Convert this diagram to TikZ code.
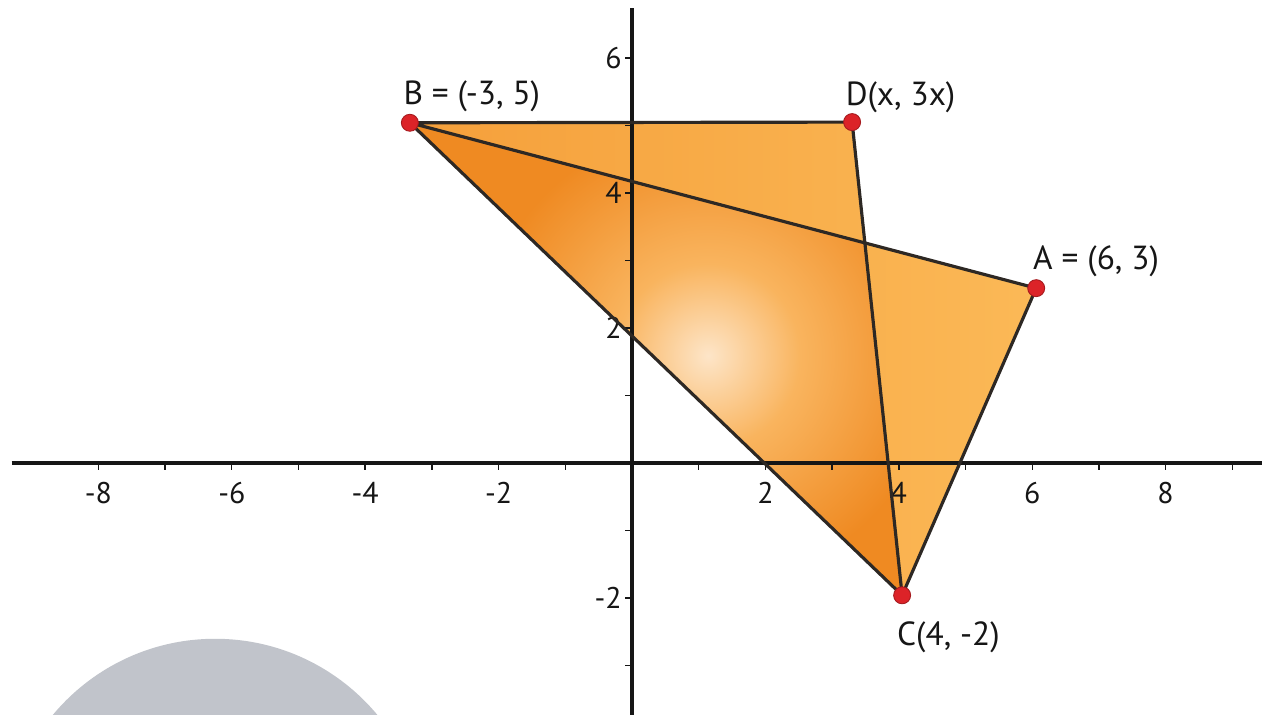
\documentclass[tikz,border=0pt]{standalone}
\usepackage{fontspec}
\setmainfont{PT Sans}
\usetikzlibrary{calc}
\definecolor{ink}{HTML}{161616}
\definecolor{edgeInk}{HTML}{2d2824}
\definecolor{orangeLight}{HTML}{fbb957}
\definecolor{orangeMid}{HTML}{f59f3a}
\definecolor{orangeSoft}{HTML}{f9b45e}
\definecolor{orangeDeep}{HTML}{ef8a22}
\definecolor{creamFill}{HTML}{fde5c8}
\definecolor{dotRed}{HTML}{dc2328}
\definecolor{discGrey}{HTML}{c1c4cb}
\def\Ux{1.334}
\def\Uy{1.35}
\pgfdeclareradialshading{glow}{\pgfpoint{0cm}{0cm}}{%
  color(0bp)=(creamFill); color(10bp)=(orangeSoft);
  color(25bp)=(orangeDeep); color(50bp)=(orangeDeep)}

\begin{document}
\begin{tikzpicture}[
    x=\Ux cm, y=\Uy cm,
    every node/.style={font=\fontsize{19}{22}\selectfont},
    axis/.style={line width=2.2pt, draw=ink},
    tick/.style={line width=0.8pt, draw=ink},
    ticklabel/.style={font=\fontsize{17}{20}\selectfont, color=ink,
                      inner sep=0pt},
    edge/.style={line width=1.8pt, draw=edgeInk, line join=round},
    dot/.style={circle, fill=dotRed, draw=dotRed!75!black,
                line width=0.5pt, minimum size=0.34cm, inner sep=0pt},
    ptlabel/.style={color=ink, inner sep=0pt, anchor=base west},
    ]

\useasboundingbox (-9.475,-3.733) rectangle (9.490,6.859);
\clip (-9.475,-3.733) rectangle (9.490,6.859);

% ====================================================================
% Vertices
% ====================================================================
\coordinate (B) at (-3.33,5.04);
\coordinate (D) at (3.30,5.05);
\coordinate (A) at (6.06,2.59);
\coordinate (C) at (4.05,-1.96);
\coordinate (P) at (intersection of B--A and D--C);

% Grey disc, lower left
\fill[discGrey] (-6.25,-5.73) circle[radius=4.22cm];

% ====================================================================
% Shaded triangles BDC and BAC
% ====================================================================
\begin{scope}
  \clip (B) -- (D) -- (C) -- cycle (B) -- (A) -- (C) -- cycle;
  \shade[left color=orangeMid, right color=orangeLight]
    (-3.4,-2.1) rectangle (6.2,5.2);
  % overlap B-P-C with a light centre
  \clip (B) -- (P) -- (C) -- cycle;
  \fill[orangeDeep] (-3.4,-2.1) rectangle (6.2,5.2);
  \shade[shading=glow] (1.14,1.59) circle[radius=4.6cm];
\end{scope}

% ====================================================================
% Axes
% ====================================================================
\draw[axis] (-9.3,0) -- (9.45,0);
\draw[axis] (0,6.74) -- (0,-3.733);

\foreach \i in {-8,...,-1,1,2,...,9}
  \draw[tick] (\i,0) -- (\i,-0.11);
\foreach \i in {-3,-2,-1,1,2,...,6}
  \draw[tick] (0,\i) -- (-0.11,\i);

\foreach \i in {-8,-6,-4,-2,2,4,6,8}
  \node[ticklabel] (xl\i) at (\i,-0.44) {\i};
\foreach \i in {-2,2,4,6}
  \node[ticklabel, anchor=east] (yl\i) at (-0.15,\i) {\i};

% ====================================================================
% Edges, points and labels
% ====================================================================
\draw[edge] (B) -- (D) -- (C) -- (A) -- (B) -- (C);

\node[dot] (dotB) at (B) {};
\node[dot] (dotD) at (D) {};
\node[dot] (dotA) at (A) {};
\node[dot] (dotC) at (C) {};

\node[ptlabel] (lblB) at ($(B)+(-0.1,0.27)$) {B = (-3, 5)};
\node[ptlabel] (lblD) at ($(D)+(-0.1,0.24)$) {D(x, 3x)};
\node[ptlabel] (lblA) at ($(A)+(-0.05,0.27)$) {A = (6, 3)};
\node[ptlabel] (lblC) at ($(C)+(-0.08,-0.74)$) {C(4, -2)};

\end{tikzpicture}
\end{document}
